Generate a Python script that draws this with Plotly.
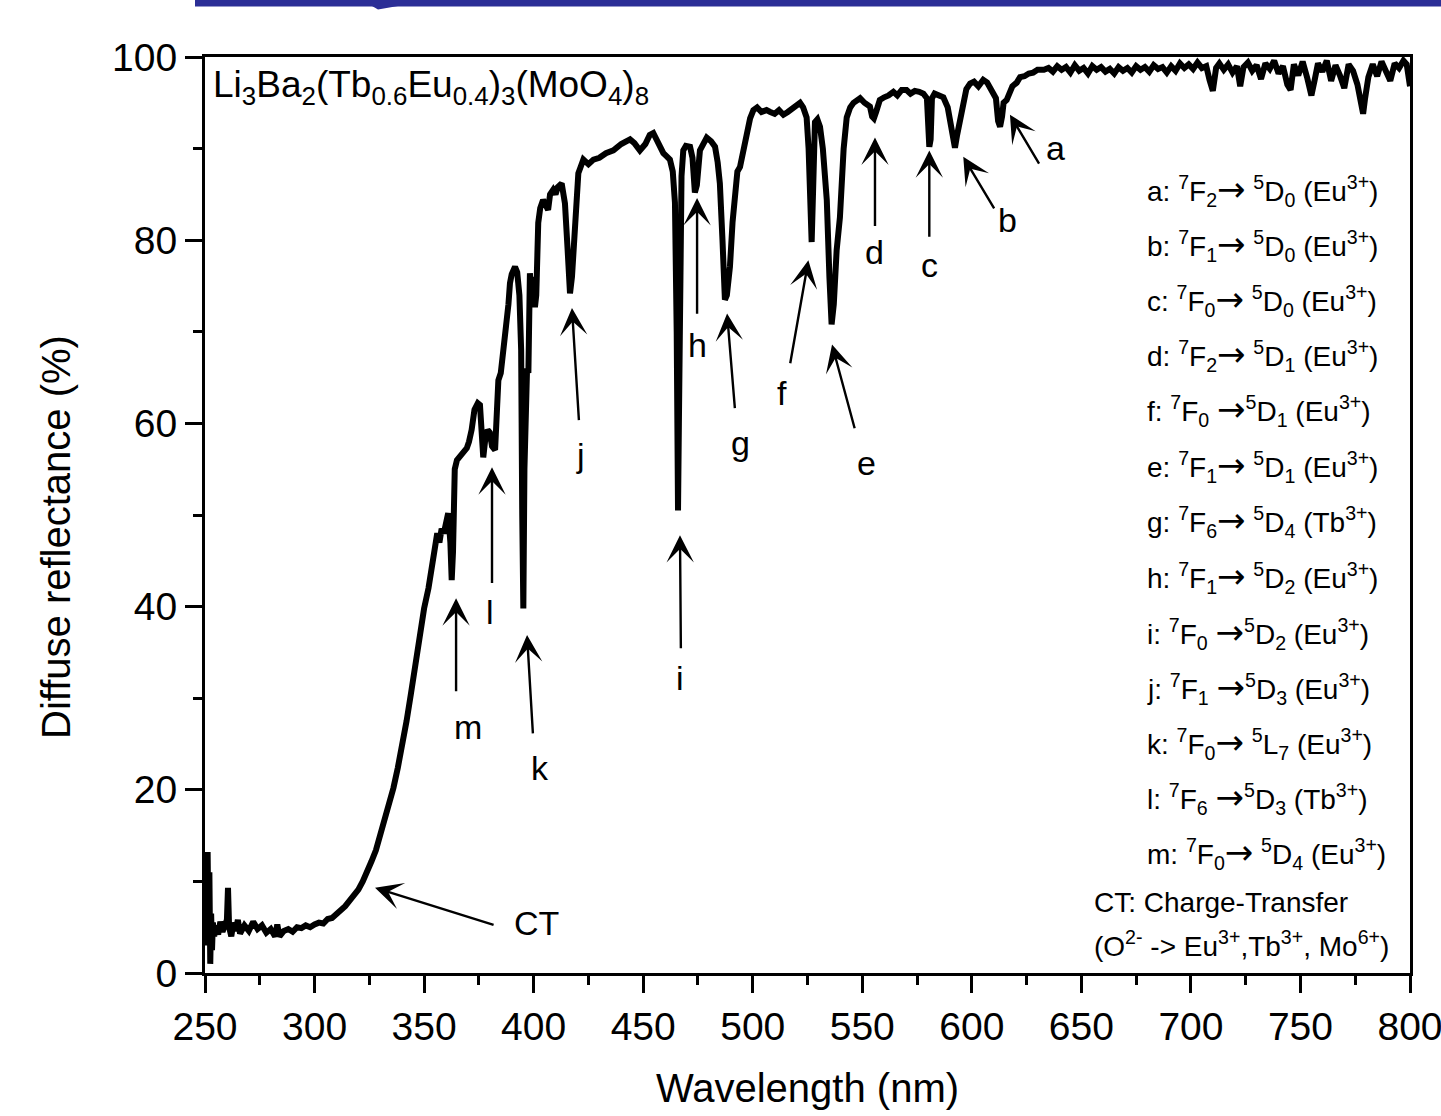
import plotly.graph_objects as go

# ---------------- data ----------------
# UV baseline + charge-transfer edge
wl_uv = [250.3, 250.8, 251.2, 251.6, 252.0, 252.4, 252.8, 253.2, 253.6, 254.2, 255.0, 256.0, 257.0, 258.0,
         259.0, 260.0, 260.5, 261.0, 262.0, 263.0, 264.0, 265.0, 266.0, 268.0, 270.0, 272.0, 274.0, 276.0,
         278.0, 280.0, 282.0, 283.0, 284.0, 286.0, 288.0, 290.0, 292.0, 294.0, 296.0, 298.0, 300.0, 302.0,
         304.0, 306.0, 308.0, 310.0, 312.0, 314.0, 316.0, 318.0, 320.0, 322.0, 324.0, 326.0, 328.0, 330.0]
r_uv = [3.0, 8.0, 13.2, 4.0, 11.0, 1.0, 6.5, 2.5, 5.5, 4.0, 5.2, 4.2, 5.6, 4.5,
        5.1, 5.8, 9.3, 5.0, 4.0, 5.5, 4.6, 5.8, 4.3, 5.2, 4.6, 5.6, 4.8, 5.2,
        4.4, 4.8, 4.0, 5.3, 4.0, 4.6, 4.8, 4.5, 5.0, 4.9, 5.2, 5.0, 5.3, 5.5,
        5.4, 5.9, 6.0, 6.4, 6.9, 7.3, 7.9, 8.5, 9.1, 10.0, 11.0, 12.2, 13.4, 15.0]

# absorption edge with m, l, k, j lines
wl_edge = [332, 334, 336, 338, 340, 342, 344, 346, 348, 350, 352, 354, 355, 356, 357, 358, 359, 360, 361, 362,
           362.6, 363.2, 364, 365, 366.5, 368, 369.5, 370.5, 371.7, 373, 374.5, 375.5, 376.5, 377, 377.8, 379,
           380, 381, 382.4, 383.2, 383.9, 385, 386, 387.7, 388.5, 389.2, 390, 391.5, 392.5, 393.5, 394.3, 394.8,
           395.3, 395.8, 396.4, 397, 397.6, 398.3, 399, 399.6, 400.6, 401.2, 402.1, 403, 404.3, 405.5, 406.6,
           407.5, 408.9, 410, 411, 412.8, 414.3, 415.5, 416.6, 417.5, 418.9, 420.4]
r_edge = [16.5, 18.3, 20.2, 22.4, 24.7, 27.5, 30.5, 34.0, 37.0, 39.8, 42.0, 44.8, 46.5, 48.0, 47.0, 48.5, 48.0,
          49.5, 50.2, 47.0, 42.9, 46.0, 55.0, 56.0, 56.4, 57.0, 57.3, 58.0, 59.3, 61.5, 62.2, 62.0, 59.0, 56.3,
          58.0, 59.3, 59.0, 57.5, 57.1, 60.0, 64.7, 65.5, 67.5, 70.2, 73.0, 75.3, 76.3, 77.1, 76.5, 74.0, 68.0,
          50.0, 39.8, 55.0, 64.0, 66.0, 65.5, 76.4, 73.0, 76.0, 72.7, 74.0, 81.9, 83.5, 84.4, 83.6, 83.3, 85.0,
          85.5, 85.0, 85.8, 86.2, 84.0, 79.0, 74.2, 76.0, 81.1, 87.3]

# visible range with i, h, g, f, e, d, c, b, a lines
wl_vis = [422.7, 425, 427.3, 430, 433, 436.4, 440, 444, 446, 448.5,
          451, 453, 454.6, 456, 457.5, 459.2, 460.5, 462.2, 463.5, 464.5,
          465.3, 465.9, 466.3, 466.8, 467.5, 468.3, 469.5, 471.4, 472.5, 473.6,
          474.5, 475.9, 477.5, 479, 481, 482.8, 484, 485, 486.2, 487.3,
          488.2, 489.6, 490.8, 491.9, 493, 494.2, 495.5, 497.2, 498.8, 500.3,
          502, 504, 506.3, 508, 510, 512, 514, 516, 518, 520,
          521.6, 523, 524.6, 525.5, 526.3, 526.9, 527.5, 528.4, 529.5, 530.7,
          532, 533, 533.8, 535, 536, 537, 538.3, 539.8, 540.5, 541.5,
          542.9, 544.5, 546, 547.4, 549, 551, 553.5, 554.5, 555.3, 556.3,
          558, 560, 562, 564.2, 566, 568, 570.2, 572, 574, 576,
          577.9, 579.5, 580, 580.6, 581.2, 581.8, 583, 585, 587, 589,
          590.5, 591.5, 592.3, 593.3, 594.6, 596, 597.5, 599.2, 601, 603,
          605.2, 607, 608.5, 609.8, 611, 612, 612.9, 613.8, 614.5, 615.9,
          617, 618.5, 620.5, 622, 624, 626, 628, 630, 632.9]
r_vis = [88.8, 88.3, 88.8, 89.0, 89.5, 89.8, 90.5, 91.0, 90.6, 89.8,
         90.5, 91.5, 91.7, 91.0, 90.0, 89.5, 89.2, 88.8, 87.5, 84.1,
         70.0, 50.5, 60.0, 81.9, 87.0, 89.8, 90.3, 90.2, 89.0, 85.2,
         86.0, 89.8, 90.5, 91.2, 90.8, 90.2, 88.5, 86.2, 80.0, 73.5,
         74.0, 77.1, 82.0, 85.5, 87.5, 88.0, 89.5, 91.7, 93.3, 94.2,
         94.5, 94.0, 94.2, 94.0, 93.8, 94.2, 93.7, 94.0, 94.4, 94.6,
         95.0, 94.5, 93.4, 90.0, 82.0, 79.8, 85.0, 92.9, 93.2, 92.4,
         90.0, 86.5, 84.4, 76.0, 70.8, 73.0, 78.9, 82.5, 86.0, 90.0,
         93.4, 94.5, 95.0, 95.3, 95.5, 95.0, 94.6, 93.5, 93.3, 94.0,
         95.3, 95.6, 95.8, 96.2, 95.8, 96.4, 96.4, 96.0, 96.3, 96.2,
         96.0, 95.5, 91.0, 90.2, 91.0, 95.5, 96.0, 95.8, 95.6, 94.5,
         92.5, 90.5, 90.1, 91.5, 93.1, 95.0, 96.5, 97.1, 97.3, 96.8,
         97.5, 97.2, 96.5, 96.0, 95.5, 93.0, 92.4, 93.5, 95.0, 95.3,
         96.0, 96.8, 97.2, 97.8, 97.9, 98.2, 98.3, 98.6, 98.6]

# near-IR plateau (noisy)
wl_nir = [635, 637, 639, 641, 643, 645, 647, 649, 651, 653, 655, 657, 659, 661, 663, 665, 667, 669, 671, 673,
          675, 677, 679, 681, 683, 685, 687, 689, 691, 693, 695, 697, 699, 701, 703, 705, 707, 708.5, 710, 711.5,
          713, 715, 717, 719, 721, 722.5, 724, 726, 728, 730, 732, 734, 736, 738, 740, 742, 744, 745.5, 747, 749,
          751, 753, 755, 756.5, 758, 760, 762, 764, 766, 768, 770, 772, 774, 776, 777.5, 778.6, 779.5, 781, 783,
          785, 787, 789, 791, 793, 795, 797, 798.5, 800]
r_nir = [98.8, 98.4, 99.0, 98.6, 98.9, 98.3, 99.1, 98.5, 98.8, 98.2, 99.0, 98.6, 98.9, 98.4, 98.7, 98.2, 98.9,
         98.5, 98.8, 98.3, 99.0, 98.6, 98.9, 98.4, 99.1, 98.7, 98.9, 98.3, 99.0, 98.5, 99.3, 98.8, 99.2, 98.7,
         99.4, 98.8, 99.0, 97.5, 96.3, 98.8, 99.3, 98.6, 99.2, 98.3, 99.0, 96.8, 98.9, 99.4, 98.5, 99.1, 97.6,
         99.3, 98.7, 99.6, 98.2, 99.0, 97.0, 96.4, 99.2, 98.0, 99.5, 97.8, 95.8, 97.5, 99.3, 98.4, 99.6, 97.4,
         99.1, 98.0, 96.6, 99.2, 98.5, 97.0, 95.0, 93.8, 95.5, 97.8, 99.2, 97.9, 99.5, 98.3, 97.4, 99.3, 98.8,
         99.6, 99.2, 96.8]

# arrow annotations: label, head (wavelength, %), tail (wavelength, %), label position
arrow_labels = ["a", "b", "c", "d", "f", "e", "g", "h", "i", "j", "k", "l", "m", "CT"]
head_wl = [617.4, 596.1, 580.6, 555.8, 525.4, 536.2, 488.3, 474.6, 466.8, 417.5, 397.0, 381.0, 364.6, 327.6]
head_r = [93.7, 89.1, 89.8, 91.2, 77.8, 68.6, 72.0, 84.6, 47.8, 72.6, 36.9, 55.2, 40.9, 9.3]
tail_wl = [631.1, 610.6, 580.6, 555.8, 517.0, 546.7, 491.9, 474.6, 467.2, 420.7, 399.7, 381.0, 364.6, 382.4]
tail_r = [88.2, 83.3, 80.2, 81.4, 66.4, 59.3, 61.5, 71.8, 35.3, 60.2, 26.0, 42.4, 30.6, 5.2]
label_wl = [638.0, 616.5, 580.9, 555.8, 513.4, 551.7, 494.2, 474.6, 466.8, 421.2, 402.9, 380.1, 370.0, 401.5]
label_r = [90.1, 82.2, 77.3, 78.7, 63.3, 55.7, 57.9, 68.6, 32.2, 56.6, 22.4, 39.4, 26.9, 5.5]

# assignment table
ARR = "<span style='font-family:DejaVu Sans;font-size:34px'>→</span>"
assignments = [
    f"a: <sup>7</sup>F<sub>2</sub>{ARR} <sup>5</sup>D<sub>0</sub> (Eu<sup>3+</sup>)",
    f"b: <sup>7</sup>F<sub>1</sub>{ARR} <sup>5</sup>D<sub>0</sub> (Eu<sup>3+</sup>)",
    f"c: <sup>7</sup>F<sub>0</sub>{ARR} <sup>5</sup>D<sub>0</sub> (Eu<sup>3+</sup>)",
    f"d: <sup>7</sup>F<sub>2</sub>{ARR} <sup>5</sup>D<sub>1</sub> (Eu<sup>3+</sup>)",
    f"f: <sup>7</sup>F<sub>0</sub> {ARR}<sup>5</sup>D<sub>1</sub> (Eu<sup>3+</sup>)",
    f"e: <sup>7</sup>F<sub>1</sub>{ARR} <sup>5</sup>D<sub>1</sub> (Eu<sup>3+</sup>)",
    f"g: <sup>7</sup>F<sub>6</sub>{ARR} <sup>5</sup>D<sub>4</sub> (Tb<sup>3+</sup>)",
    f"h: <sup>7</sup>F<sub>1</sub>{ARR} <sup>5</sup>D<sub>2</sub> (Eu<sup>3+</sup>)",
    f"i: <sup>7</sup>F<sub>0</sub> {ARR}<sup>5</sup>D<sub>2</sub> (Eu<sup>3+</sup>)",
    f"j: <sup>7</sup>F<sub>1</sub> {ARR}<sup>5</sup>D<sub>3</sub> (Eu<sup>3+</sup>)",
    f"k: <sup>7</sup>F<sub>0</sub>{ARR} <sup>5</sup>L<sub>7</sub> (Eu<sup>3+</sup>)",
    f"l: <sup>7</sup>F<sub>6</sub> {ARR}<sup>5</sup>D<sub>3</sub> (Tb<sup>3+</sup>)",
    f"m: <sup>7</sup>F<sub>0</sub>{ARR} <sup>5</sup>D<sub>4</sub> (Eu<sup>3+</sup>)",
    "CT: Charge-Transfer",
    "(O<sup>2-</sup> -> Eu<sup>3+</sup>,Tb<sup>3+</sup>, Mo<sup>6+</sup>)",
]
compound = "Li<sub>3</sub>Ba<sub>2</sub>(Tb<sub>0.6</sub>Eu<sub>0.4</sub>)<sub>3</sub>(MoO<sub>4</sub>)<sub>8</sub>"
x_ticks = [250, 300, 350, 400, 450, 500, 550, 600, 650, 700, 750, 800]
y_ticks = [0, 20, 40, 60, 80, 100]

# ---------------- figure ----------------
FONT = "Liberation Sans, Arial, sans-serif"
W, H = 1441, 1116
ML, MR, MT, MB = 205, 31, 57, 143
PW, PH = W - ML - MR, H - MT - MB


def px_x(p):
    return (p - ML) / PW


def px_y(p):
    return (H - MB - p) / PH


wl = wl_uv + wl_edge + wl_vis + wl_nir
refl = r_uv + r_edge + r_vis + r_nir

fig = go.Figure()
fig.add_trace(go.Scatter(x=wl, y=refl, mode="lines",
                         line=dict(color="black", width=6), showlegend=False))

annotations = []
for lab, hx, hy, tx, ty, lx, ly in zip(arrow_labels, head_wl, head_r, tail_wl, tail_r, label_wl, label_r):
    annotations.append(dict(x=hx, y=hy, ax=tx, ay=ty, xref="x", yref="y", axref="x", ayref="y",
                            text="", showarrow=True, arrowhead=3, arrowsize=1.9, arrowwidth=2.4,
                            arrowcolor="black", standoff=0, startstandoff=0))
    annotations.append(dict(x=lx, y=ly, xref="x", yref="y", text=lab, showarrow=False,
                            font=dict(family=FONT, size=34, color="black"),
                            xanchor="center", yanchor="middle"))

table_y = [190, 245, 300, 355, 410, 466, 521, 577, 633, 688, 743, 798, 853, 902, 944]
table_x = [1145] * 13 + [1092, 1092]
for txt, tx, ty in zip(assignments, table_x, table_y):
    annotations.append(dict(x=px_x(tx), y=px_y(ty), xref="paper", yref="paper", text=txt,
                            showarrow=False, xanchor="left", yanchor="middle",
                            font=dict(family=FONT, size=28, color="black")))

annotations.append(dict(x=px_x(211), y=px_y(62), xref="paper", yref="paper", text=compound,
                        showarrow=False, xanchor="left", yanchor="top",
                        font=dict(family=FONT, size=37, color="black")))

# y-axis title placed as in the reference
annotations.append(dict(x=px_x(56), y=px_y(537), xref="paper", yref="paper",
                        text="Diffuse reflectance (%)", textangle=-90, showarrow=False,
                        xanchor="center", yanchor="middle",
                        font=dict(family=FONT, size=40, color="black")))

shapes = [
    dict(type="rect", xref="paper", yref="paper", x0=px_x(195), x1=px_x(1445), y0=px_y(6.5), y1=px_y(-2),
         fillcolor="#2B2E96", line=dict(width=0), layer="above"),
    dict(type="path", xref="paper", yref="paper",
         path=f"M{px_x(372)},{px_y(6)} L{px_x(398)},{px_y(6)} L{px_x(378)},{px_y(9.5)} Z",
         fillcolor="#2B2E96", line=dict(width=0)),
]

axis_common = dict(showgrid=False, zeroline=False, showline=True, linecolor="black", linewidth=3,
                   mirror=True, ticks="outside", ticklen=17, tickwidth=3, tickcolor="black",
                   ticklabeloverflow="allow", automargin=False,
                   tickfont=dict(family=FONT, size=39, color="black"))

fig.update_layout(
    width=W, height=H,
    margin=dict(l=ML, r=MR, t=MT, b=MB, pad=0, autoexpand=False),
    paper_bgcolor="white", plot_bgcolor="white",
    font=dict(family=FONT, color="black"),
    xaxis=dict(range=[250, 800], tickvals=x_ticks,
               minor=dict(dtick=25, tick0=250, ticks="outside", ticklen=9, tickwidth=3, tickcolor="black"),
               title=dict(text="Wavelength (nm)", font=dict(family=FONT, size=40), standoff=28),
               **axis_common),
    yaxis=dict(range=[0, 100], tickvals=y_ticks,
               minor=dict(dtick=10, tick0=0, ticks="outside", ticklen=9, tickwidth=3, tickcolor="black"),
               **axis_common),
    annotations=annotations,
    shapes=shapes,
)

fig.write_html("out.html")
